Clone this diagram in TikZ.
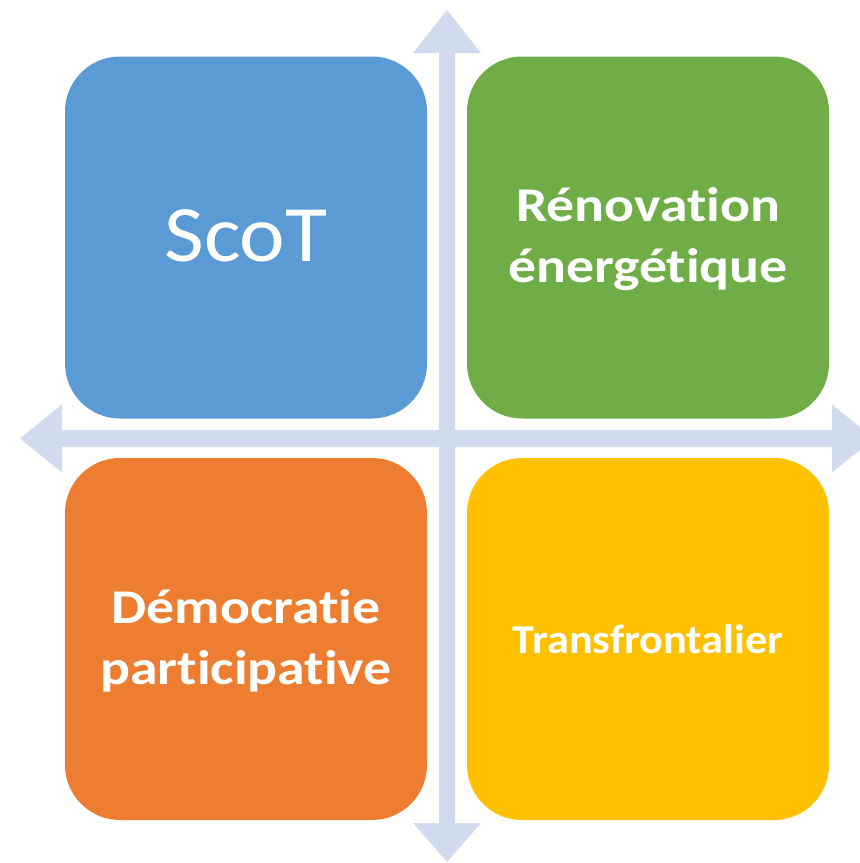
\documentclass[tikz,border=0pt]{standalone}
\usepackage{fontspec}
\setmainfont{Carlito}[Ligatures=NoCommon, Contextuals=NoAlternate, FakeStretch=1.08]
\newfontfamily\widefont{Carlito}[Ligatures=NoCommon, Contextuals=NoAlternate, FakeStretch=1.15]
\definecolor{cblue}{HTML}{5B9BD5}
\definecolor{cgreen}{HTML}{70AD47}
\definecolor{corange}{HTML}{ED7D31}
\definecolor{cyellow}{HTML}{FFC000}
\definecolor{caxis}{HTML}{D0DBEE}
\begin{document}
\begin{tikzpicture}[x=1pt,y=-1pt,
  quad/.style={rectangle, rounded corners=55pt, minimum width=362pt, minimum height=362pt,
    inner sep=0pt},
  lab/.style={inner sep=0pt, text=white, align=center},
  big/.style={font=\widefont\fontsize{48.5}{61}\selectfont\bfseries}]
\useasboundingbox (0,0) rectangle (860,863);
\clip (0,0) rectangle (860,863);
% axes
\fill[caxis] (447,10) -- (481,53) -- (455,53) -- (455,823) -- (481,823) -- (447,862)
  -- (413,823) -- (439,823) -- (439,53) -- (413,53) -- cycle;
\fill[caxis] (20,438.5) -- (62,404.5) -- (62,430) -- (832,430) -- (832,404.5) -- (874,438.5)
  -- (832,472.5) -- (832,447) -- (62,447) -- (62,472.5) -- cycle;
% quadrants
\node[quad, fill=cblue] (scot) at (246,237.5) {};
\node[quad, fill=cgreen] (reno) at (648,237.5) {};
\node[quad, fill=corange] (demo) at (246,639) {};
\node[quad, fill=cyellow] (trans) at (648,639) {};
% labels
\node[lab, font=\fontsize{80}{90}\selectfont] (scotlab) at ([yshift=1.5pt]scot.center) {ScoT};
\node[lab, big] (renolab) at ([yshift=-2pt]reno.center) {Rénovation\\énergétique};
\node[lab, big] (demolab) at ([yshift=-2pt]demo.center) {Démocratie\\participative};
\node[lab, font=\fontsize{41}{50}\selectfont\bfseries] (translab) at (trans.center) {Transfrontalier};
\end{tikzpicture}
\end{document}
